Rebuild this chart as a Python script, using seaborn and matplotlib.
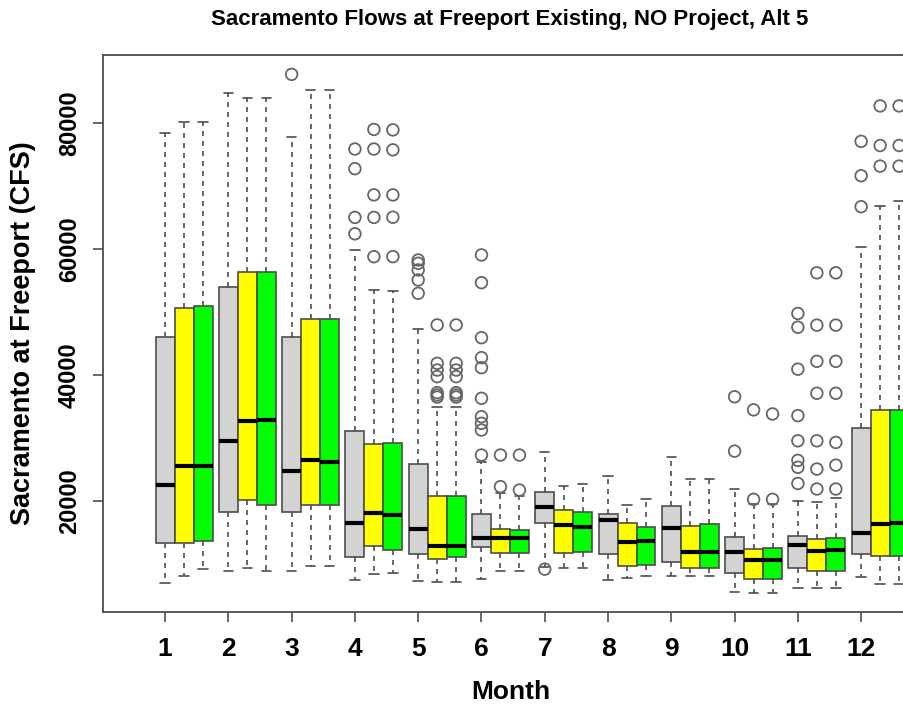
import matplotlib
matplotlib.use("Agg")
import matplotlib.pyplot as plt
import pandas as pd
import seaborn as sns

# Monthly flow summaries (CFS)
months = list(range(1, 13))
scenarios = ["Existing", "NO Project", "Alt 5"]
fill_colors = ["#d3d3d3", "#ffff00", "#00ff00"]

existing_lo = [7020, 8920, 8920, 7430, 7360, 7620, 9600, 7460, 8040, 5590, 6240, 7880]
existing_q1 = [13370, 18270, 18270, 11180, 11590, 12650, 16460, 11590, 10330, 8590, 9350, 11540]
existing_med = [22600, 29500, 24800, 16540, 15560, 14180, 19000, 16980, 15800, 11860, 13070, 14980]
existing_q3 = [46080, 53900, 45960, 31080, 25820, 17940, 21380, 17940, 19180, 14270, 14430, 31520]
existing_hi = [78400, 84800, 77700, 59800, 47250, 26250, 27830, 24020, 26990, 21910, 20050, 60300]
existing_out = [
    [], [], [87700],
    [62400, 65000, 72730, 75850],
    [52960, 55080, 56670, 57720, 58250],
    [27300, 31270, 32330, 33380, 36300, 41160, 42750, 45920, 54650, 59050],
    [9200], [], [],
    [27920, 36550],
    [22790, 25360, 26450, 29560, 33550, 40920, 47580, 49760],
    [66700, 71610, 77070],
]

noproj_lo = [8060, 9330, 9620, 8460, 7200, 8890, 9310, 7800, 8040, 5420, 6240, 6790]
noproj_q1 = [13370, 20100, 19430, 12790, 10790, 11800, 11690, 9730, 9350, 7610, 8970, 11260]
noproj_med = [25600, 32700, 26520, 18160, 12860, 14180, 16190, 13550, 11970, 10720, 12080, 16340]
noproj_q3 = [50600, 56350, 48850, 29060, 20790, 15560, 18570, 16450, 16070, 12410, 14050, 34470]
noproj_hi = [80100, 84000, 85200, 53460, 34870, 21220, 22430, 19360, 23550, 19600, 19890, 66860]
noproj_out = [
    [], [], [],
    [58770, 65000, 68580, 75850, 78960],
    [36500, 36830, 37200, 39740, 40790, 41850, 47940],
    [22280, 27300],
    [], [], [],
    [20270, 34470],
    [21910, 25080, 29560, 37100, 42170, 47910, 56210],
    [73140, 76410, 82690],
]

alt5_lo = [9210, 8920, 9620, 8620, 7200, 8890, 9310, 8040, 8040, 5420, 6240, 6790]
alt5_q1 = [13660, 19430, 19430, 12220, 11160, 11690, 11950, 9790, 9350, 7610, 8970, 11260]
alt5_med = [25600, 32870, 26180, 17780, 12860, 14180, 15930, 13720, 11970, 10720, 12250, 16510]
alt5_q3 = [51000, 56350, 48850, 29150, 20790, 15400, 18200, 15900, 16340, 12630, 14160, 34470]
alt5_hi = [80100, 84000, 85200, 53380, 34870, 20800, 22700, 20270, 23550, 19600, 20500, 67570]
alt5_out = [
    [], [], [],
    [58780, 65030, 68570, 75720, 78890],
    [36500, 36830, 37200, 39740, 40790, 41850, 47940],
    [21750, 27300],
    [], [], [],
    [20270, 33820],
    [21910, 25700, 29300, 37100, 42170, 47910, 56210],
    [73140, 76410, 82690],
]

series = [
    (existing_lo, existing_q1, existing_med, existing_q3, existing_hi, existing_out),
    (noproj_lo, noproj_q1, noproj_med, noproj_q3, noproj_hi, noproj_out),
    (alt5_lo, alt5_q1, alt5_med, alt5_q3, alt5_hi, alt5_out),
]

sns.set_style("white")
plt.rcParams["font.family"] = ["Liberation Sans", "DejaVu Sans"]
plt.rcParams["font.weight"] = "bold"
plt.rcParams["text.color"] = "black"
plt.rcParams["axes.labelcolor"] = "black"
plt.rcParams["xtick.labelcolor"] = "black"
plt.rcParams["ytick.labelcolor"] = "black"

fig = plt.figure(figsize=(9.04, 7.04), dpi=100)
ax = fig.add_axes([0.114, 0.1307, 0.9016, 0.791])

edge = "#4d4d4d"
outlier_rows = []
for k, (lo, q1, med, q3, hi, out) in enumerate(series):
    stats = []
    for i in range(12):
        stats.append({"whislo": lo[i], "q1": q1[i], "med": med[i],
                      "q3": q3[i], "whishi": hi[i], "fliers": []})
        for v in out[i]:
            outlier_rows.append({"pos": months[i] + 0.3 * k, "value": v})
    ax.bxp(stats, positions=[m + 0.3 * k for m in months], widths=0.3,
           capwidths=0.15, patch_artist=True, showfliers=False,
           boxprops=dict(facecolor=fill_colors[k], edgecolor=edge, linewidth=1.2),
           medianprops=dict(color="black", linewidth=3, solid_capstyle="butt"),
           whiskerprops=dict(color=edge, linestyle=(0, (3, 3)), linewidth=1.2),
           capprops=dict(color=edge, linewidth=1.2),
           manage_ticks=False)

df_out = pd.DataFrame(outlier_rows)
sns.scatterplot(data=df_out, x="pos", y="value", marker="o", s=70,
                facecolor="none", edgecolor="#666666", linewidth=1.3,
                ax=ax, legend=False, zorder=3)

ax.set_xlim(0.02, 12.9)
ax.set_ylim(2400, 90750)
ax.set_xticks(months)
ax.set_xticklabels([str(m) for m in months], fontsize=19, fontweight="bold")
ax.set_yticks([20000, 40000, 60000, 80000])
ax.set_yticklabels(["20000", "40000", "60000", "80000"], rotation=90,
                   va="center", fontsize=17, fontweight="bold")
ax.tick_params(axis="x", direction="out", length=7, width=1.2,
               color=edge, pad=11, bottom=True)
ax.tick_params(axis="y", direction="out", length=7, width=1.2,
               color=edge, pad=9, left=True)
for sp in ax.spines.values():
    sp.set_color(edge)
    sp.set_linewidth(1.3)

ax.set_xlabel("Month", fontsize=19, fontweight="bold", labelpad=14)
ax.set_ylabel("Sacramento at Freeport (CFS)", fontsize=19.5, fontweight="bold", labelpad=16)
fig.text(0.564, 0.973, "Sacramento Flows at Freeport Existing, NO Project, Alt 5",
         ha="center", va="center", fontsize=16, fontweight="bold")

fig.savefig("out.png", dpi=100)
